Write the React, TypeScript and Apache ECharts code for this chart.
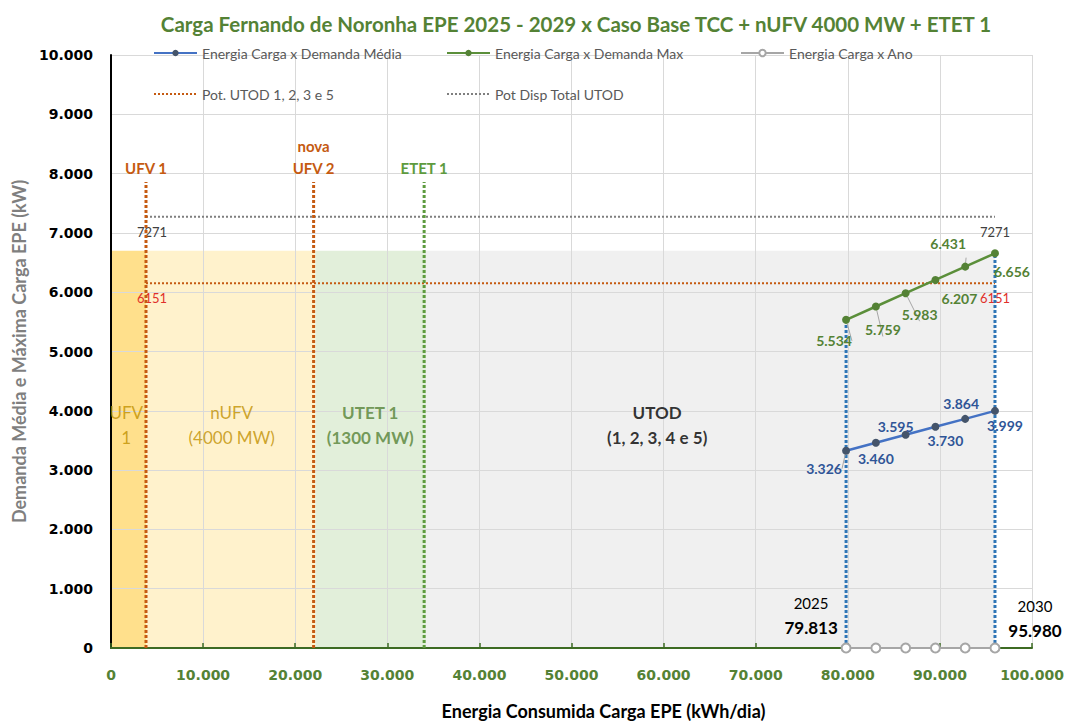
import React, { useEffect, useRef } from 'react';
import * as echarts from 'echarts';

// ---------------- data ----------------
const years = ['2025', '2026', '2027', '2028', '2029', '2030'];
const energiaConsumida = [79813, 83047, 86280, 89513, 92747, 95980];
const demandaMedia = [3326, 3460, 3595, 3730, 3864, 3999];
const demandaMax = [5534, 5759, 5983, 6207, 6431, 6656];
const potUtod1235 = 6151;
const potDispTotalUtod = 7271;
const refLineStart = 3800;
const usinaNames = ['UFV 1', 'nova\nUFV 2', 'ETET 1'];
const usinaX = [3800, 22000, 34000];
const usinaLineTop = 7860;
const zoneNames = ['UFV\n1', 'nUFV\n(4000 MW)', 'UTET 1\n(1300 MW)', 'UTOD\n(1, 2, 3, 4 e 5)'];
const zoneFrom = [0, 3800, 22200, 34200];
const zoneTo = [3800, 22200, 34200, 95980];
const zoneTop = 6700;
const xMin = 0, xMax = 100000, xInterval = 10000;
const yMin = 0, yMax = 10000, yInterval = 1000;

const TITLE = 'Carga Fernando de Noronha EPE 2025 - 2029 x Caso Base TCC + nUFV 4000 MW + ETET 1';
const S_MEDIA = 'Energia Carga x Demanda Média';
const S_MAX = 'Energia Carga x Demanda Max';
const S_ANO = 'Energia Carga x Ano';
const S_POT = 'Pot. UTOD 1, 2, 3 e 5';
const S_DISP = 'Pot Disp Total UTOD';

// ---------------- styling ----------------
const FONT = 'Lato, "Open Sans", sans-serif';
const TICK_FONT = '"DejaVu Sans", sans-serif';
const GREEN = '#548235';
const ORANGE = '#C55A11';
const zoneColors = ['#FFE08C', '#FFF2CC', '#E2EFDA', '#F0F0F0'];
const zoneLabelStyle = [
  { color: '#BF9000', fontWeight: 'normal', pos: [1650, 3760] },
  { color: '#BF9000', fontWeight: 'normal', pos: [13100, 3760] },
  { color: GREEN, fontWeight: 'bold', pos: [28150, 3760] },
  { color: '#000000', fontWeight: 'bold', pos: [59300, 3760] },
];
const usinaColors = [ORANGE, ORANGE, '#5E9B3E'];
const mediaLabelOffsets = [[-22, 18], [0, 16], [-10, -8], [10, 14], [-4, -15], [10, 15]];
const mediaLeader = [true, false, false, false, false, false];
const maxLabelOffsets = [[-12, 21], [7, 23], [14, 21], [24, 19], [-17, -23], [17, 18]];
const maxLeader = [true, true, true, false, true, false];
const anoLabelOffsets: Record<number, number[]> = { 0: [-35, -33], 5: [40, -30] };

const fmt = (v: number) => Math.round(v).toString().replace(/\B(?=(\d{3})+(?!\d))/g, '.');

function buildOption(): any {
  const last = energiaConsumida.length - 1;
  const transparent = 'rgba(0,0,0,0)';

  const legendItems = [
    { name: S_MEDIA, left: 153, top: 46 },
    { name: S_MAX, left: 446, top: 46 },
    { name: S_ANO, left: 740, top: 46 },
    { name: S_POT, left: 153, top: 87 },
    { name: S_DISP, left: 446, top: 87 },
  ];

  const hLine = (name: string, value: number, color: string, labelColor: string, firstOffset: number[]) => ({
    type: 'line',
    name,
    z: 2,
    data: [
      { value: [refLineStart, value], label: { offset: firstOffset } },
      { value: [energiaConsumida[last], value] },
    ],
    symbol: 'circle',
    symbolSize: 1,
    itemStyle: { color: transparent },
    lineStyle: { color, width: 2, type: [2, 2] },
    label: {
      show: true,
      position: 'bottom',
      distance: 8,
      formatter: (p: any) => String(p.value[1]),
      color: labelColor,
      fontSize: 13,
      fontFamily: FONT,
    },
    silent: true,
  });

  const series: any[] = [];

  // shaded zones
  series.push({
    type: 'line',
    name: 'zones',
    data: [],
    silent: true,
    markArea: {
      silent: true,
      z: -1,
      label: { show: false },
      data: zoneNames.map((n, i) => [
        { xAxis: zoneFrom[i], yAxis: 0, itemStyle: { color: zoneColors[i] } },
        { xAxis: zoneTo[i], yAxis: zoneTop },
      ]),
    },
  });

  series.push(hLine(S_DISP, potDispTotalUtod, '#7F7F7F', '#404040', [6, 0]));
  series.push(hLine(S_POT, potUtod1235, ORANGE, '#E0302A', [6, 0]));

  // plant vertical lines
  usinaNames.forEach((n, i) => {
    series.push({
      type: 'line',
      name: 'usina' + i,
      silent: true,
      data: [
        { value: [usinaX[i], 0] },
        {
          value: [usinaX[i], usinaLineTop],
          label: {
            show: true,
            position: 'top',
            distance: 2,
            formatter: n,
            color: usinaColors[i],
            fontWeight: 'bold',
            fontSize: 15,
            lineHeight: 22,
            fontFamily: FONT,
          },
        },
      ],
      symbol: 'circle',
      symbolSize: 1,
      itemStyle: { color: transparent },
      lineStyle: { color: usinaColors[i], width: 3, type: [3, 2] },
    });
  });

  // blue verticals at first and last year
  [0, last].forEach((idx) => {
    series.push({
      type: 'line',
      name: 'ano' + idx,
      silent: true,
      data: [[energiaConsumida[idx], 0], [energiaConsumida[idx], demandaMax[idx]]],
      symbol: 'none',
      lineStyle: { color: '#2E75B6', width: 3, type: [3, 2] },
    });
  });

  const labelLineStyle = { lineStyle: { color: '#A6A6A6', width: 1 } };

  series.push({
    type: 'line',
    name: S_MEDIA,
    z: 5,
    data: energiaConsumida.map((x, i) => ({
      value: [x, demandaMedia[i]],
      label: { offset: mediaLabelOffsets[i] },
      labelLine: { show: mediaLeader[i], ...labelLineStyle },
    })),
    symbol: 'circle',
    symbolSize: 8,
    itemStyle: { color: '#44546A' },
    lineStyle: { color: '#4472C4', width: 2.5 },
    label: {
      show: true,
      position: 'inside',
      formatter: (p: any) => fmt(p.value[1]),
      color: '#2F5597',
      fontWeight: 'bold',
      fontSize: 14,
      fontFamily: FONT,
      textBorderWidth: 0,
    },
  });

  series.push({
    type: 'line',
    name: S_MAX,
    z: 5,
    data: energiaConsumida.map((x, i) => ({
      value: [x, demandaMax[i]],
      label: { offset: maxLabelOffsets[i] },
      labelLine: { show: maxLeader[i], ...labelLineStyle },
    })),
    symbol: 'circle',
    symbolSize: 8,
    itemStyle: { color: GREEN },
    lineStyle: { color: '#5B8F3A', width: 2.5 },
    label: {
      show: true,
      position: 'inside',
      formatter: (p: any) => fmt(p.value[1]),
      color: GREEN,
      fontWeight: 'bold',
      fontSize: 14,
      fontFamily: FONT,
      textBorderWidth: 0,
    },
  });

  series.push({
    type: 'line',
    name: S_ANO,
    z: 5,
    data: energiaConsumida.map((x, i) => ({
      value: [x, 0],
      label: anoLabelOffsets[i]
        ? {
            show: true,
            position: 'inside',
            offset: anoLabelOffsets[i],
            formatter: `{y|${years[i]}}\n{v|${fmt(x)}}`,
            rich: {
              y: { color: '#000', fontSize: 15, fontFamily: FONT, lineHeight: 25, align: 'center' },
              v: { color: '#000', fontSize: 17, fontWeight: 'bold', fontFamily: FONT, lineHeight: 25, align: 'center' },
            },
          }
        : { show: false },
    })),
    symbol: 'emptyCircle',
    symbolSize: 9,
    itemStyle: { color: '#A6A6A6', borderWidth: 2 },
    lineStyle: { color: '#A6A6A6', width: 2 },
  });

  // zone annotations
  series.push({
    type: 'scatter',
    name: 'zoneLabels',
    silent: true,
    z: 4,
    symbol: 'circle',
    symbolSize: 1,
    itemStyle: { color: transparent },
    data: zoneNames.map((n, i) => ({
      value: zoneLabelStyle[i].pos,
      label: {
        show: true,
        position: 'inside',
        formatter: n,
        color: zoneLabelStyle[i].color,
        fontWeight: zoneLabelStyle[i].fontWeight,
        fontSize: 17,
        lineHeight: 25,
        fontFamily: FONT,
        textBorderWidth: 0,
      },
    })),
  });

  return {
    animation: false,
    backgroundColor: '#ffffff',
    title: {
      text: TITLE,
      left: 571,
      top: 8,
      textAlign: 'center',
      textStyle: { color: GREEN, fontSize: 20.5, fontWeight: 'bold', fontFamily: FONT },
    },
    legend: legendItems.map((it) => ({
      data: [it.name],
      left: it.left,
      top: it.top,
      padding: 0,
      itemWidth: 43,
      itemHeight: 8,
      itemGap: 0,
      selectedMode: false,
      textStyle: { color: '#595959', fontSize: 14, fontFamily: FONT },
    })),
    grid: { left: 111, right: 37, top: 55, bottom: 74, containLabel: false, outerBoundsMode: 'none' },
    xAxis: {
      type: 'value',
      min: xMin,
      max: xMax,
      interval: xInterval,
      name: 'Energia Consumida Carga EPE (kWh/dia)',
      nameLocation: 'middle',
      nameGap: 54,
      nameTextStyle: { color: '#000', fontWeight: 'bold', fontSize: 18, fontFamily: FONT, padding: [0, 0, 0, 64] },
      axisLine: { show: true, lineStyle: { color: '#3D6B23', width: 2 } },
      axisTick: { show: true, inside: true, length: 5, lineStyle: { color: '#3D6B23', width: 1.5 } },
      axisLabel: { color: GREEN, fontWeight: 'bold', fontSize: 14, fontFamily: TICK_FONT, margin: 20, formatter: (v: number) => fmt(v) },
      splitLine: { show: true, lineStyle: { color: '#D9D9D9', width: 1 } },
    },
    yAxis: {
      type: 'value',
      min: yMin,
      max: yMax,
      interval: yInterval,
      name: 'Demanda Média e Máxima Carga EPE (kW)',
      nameLocation: 'middle',
      nameRotate: 90,
      nameGap: 82,
      nameTextStyle: { color: '#7F7F7F', fontWeight: 'bold', fontSize: 18, fontFamily: FONT },
      axisLine: { show: true, lineStyle: { color: '#000', width: 2 } },
      axisTick: { show: false },
      axisLabel: { color: '#000', fontWeight: 'bold', fontSize: 14, fontFamily: TICK_FONT, margin: 18, formatter: (v: number) => fmt(v) },
      splitLine: { show: true, lineStyle: { color: '#D9D9D9', width: 1 } },
    },
    series,
  };
}

export default function App() {
  const ref = useRef<HTMLDivElement>(null);
  useEffect(() => {
    if (!ref.current) return;
    const chart = echarts.init(ref.current, null, { renderer: 'svg' });
    chart.setOption(buildOption());
    return () => chart.dispose();
  }, []);
  return <div ref={ref} style={{ position: 'fixed', left: 0, top: 0, width: 1069, height: 722 }} />;
}
